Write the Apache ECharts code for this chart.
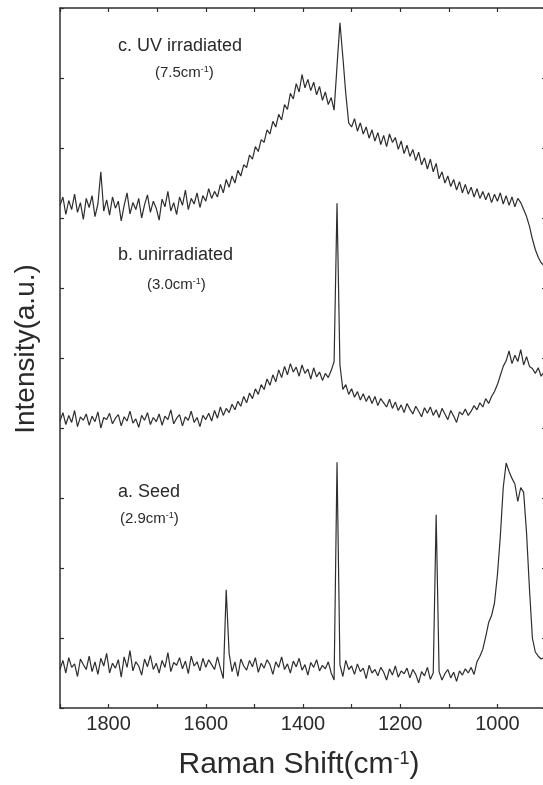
<!DOCTYPE html>
<html><head><meta charset="utf-8">
<script src="https://cdn.jsdelivr.net/npm/echarts@6/dist/echarts.min.js"></script>
<style>html,body{margin:0;padding:0;background:#fff}#c{width:543px;height:785px}</style>
</head><body><div id="c"></div>
<script>
// Raman shift sampling (cm^-1): first point and spacing
const shiftStart = 1900;
const shiftStep = 6;

// a. Seed
const seedA = [
0.55,0.68,0.50,0.72,0.58,0.63,0.45,0.70,0.62,0.55,
0.74,0.52,0.66,0.48,0.71,0.60,0.78,0.50,0.64,0.57,
0.69,0.44,0.73,0.58,0.82,0.53,0.66,0.60,0.47,0.70,
0.59,0.75,0.55,0.64,0.50,0.68,0.58,0.79,0.52,0.65,
0.61,0.72,0.56,0.67,0.49,0.74,0.60,0.66,0.53,0.71,
0.58,0.69,0.62,0.55,0.73,0.57,0.42,1.69,0.78,0.52,
0.66,0.45,0.70,0.60,0.54,0.68,0.59,0.72,0.51,0.64,
0.57,0.69,0.62,0.48,0.66,0.58,0.73,0.55,0.63,0.50,
0.67,0.59,0.71,0.54,0.62,0.47,0.65,0.58,0.69,0.53,
0.61,0.56,0.66,0.50,0.40,3.51,0.62,0.45,0.68,0.55,
0.60,0.48,0.63,0.52,0.57,0.42,0.61,0.50,0.55,0.46,
0.58,0.51,0.40,0.56,0.47,0.60,0.44,0.53,0.49,0.57,
0.43,0.55,0.48,0.36,0.52,0.46,0.58,0.41,0.50,2.76,
0.52,0.40,0.49,0.55,0.43,0.51,0.38,0.53,0.47,0.56,
0.50,0.58,0.48,0.66,0.74,0.84,1.02,1.22,1.32,1.50,
1.90,2.45,3.15,3.50,3.38,3.28,3.20,2.95,3.15,3.08,
2.50,1.70,1.00,0.80,0.74,0.70,0.72
];

// b. unirradiated
const unirradiatedB = [
4.10,4.22,4.05,4.18,4.08,4.25,4.02,4.16,4.11,4.20,
4.04,4.17,4.09,4.23,4.00,4.15,4.12,4.21,4.06,4.14,
4.19,4.03,4.16,4.10,4.24,4.07,4.13,4.01,4.18,4.11,
4.22,4.05,4.15,4.09,4.20,4.04,4.17,4.12,4.26,4.06,
4.14,4.19,4.03,4.16,4.11,4.24,4.08,4.15,4.02,4.18,
4.12,4.21,4.10,4.25,4.14,4.30,4.18,4.28,4.22,4.34,
4.26,4.38,4.31,4.45,4.36,4.50,4.42,4.56,4.48,4.62,
4.55,4.70,4.61,4.76,4.66,4.83,4.72,4.88,4.76,4.92,
4.80,4.87,4.74,4.90,4.78,4.84,4.70,4.86,4.73,4.80,
4.68,4.78,4.72,4.82,4.95,7.21,4.90,4.55,4.62,4.48,
4.56,4.44,4.52,4.40,4.49,4.38,4.46,4.35,4.45,4.32,
4.42,4.36,4.30,4.41,4.28,4.37,4.25,4.33,4.22,4.35,
4.27,4.20,4.31,4.24,4.16,4.29,4.21,4.30,4.18,4.26,
4.15,4.28,4.20,4.12,4.25,4.17,4.08,4.23,4.19,4.27,
4.18,4.24,4.32,4.26,4.36,4.30,4.42,4.35,4.45,4.52,
4.62,4.75,4.88,4.96,5.10,4.92,5.04,4.95,5.12,4.90,
5.02,4.88,4.85,4.78,4.86,4.74,4.80
];

// c. UV irradiated
const uvIrradiatedC = [
7.18,7.30,7.05,7.25,7.12,7.34,7.08,7.22,6.98,7.28,
7.15,7.32,7.02,7.20,7.66,7.10,7.26,7.04,7.30,7.14,
7.24,6.96,7.18,7.36,7.06,7.22,7.12,7.28,7.00,7.19,
7.33,7.08,7.24,7.14,6.97,7.27,7.16,7.38,7.10,7.22,
7.05,7.30,7.18,7.40,7.12,7.28,7.20,7.36,7.15,7.32,
7.24,7.42,7.28,7.38,7.30,7.48,7.36,7.55,7.44,7.60,
7.50,7.68,7.60,7.76,7.72,7.90,7.84,8.02,7.95,8.12,
8.08,8.26,8.20,8.38,8.30,8.48,8.40,8.62,8.55,8.78,
8.70,8.92,8.80,9.05,8.86,8.98,8.82,8.94,8.76,8.88,
8.68,8.80,8.62,8.72,8.54,9.17,9.79,9.30,8.78,8.36,
8.30,8.42,8.24,8.36,8.20,8.30,8.14,8.26,8.10,8.22,
8.05,8.18,8.02,8.20,8.08,8.15,7.98,8.10,7.92,8.04,
7.88,7.98,7.82,7.94,7.76,7.86,7.70,7.84,7.66,7.78,
7.56,7.66,7.50,7.60,7.45,7.55,7.40,7.52,7.36,7.48,
7.34,7.44,7.30,7.42,7.28,7.38,7.26,7.36,7.22,7.34,
7.24,7.36,7.20,7.32,7.18,7.30,7.16,7.28,7.22,7.12,
7.02,6.88,6.70,6.55,6.44,6.36,6.32
];

const labeledTicks = [1800, 1600, 1400, 1200, 1000];

const lineColor = '#2e2e2e';
const axisColor = '#2e2e2e';
const textColor = '#2a2a2a';
const font = '"Liberation Sans", Arial, sans-serif';

const toPairs = vals => vals.map((v, i) => [shiftStart - shiftStep * i, v]);

const chart = echarts.init(document.getElementById('c'), null, {renderer: 'canvas'});

const xCommon = {
  type: 'value', min: 900, max: 1900, interval: 100, inverse: true,
  axisLine: {onZero: false, lineStyle: {color: axisColor, width: 1.5}},
  axisTick: {inside: true, length: 4, lineStyle: {color: axisColor, width: 1.2}},
  splitLine: {show: false}
};
const yCommon = {
  type: 'value', min: 0, max: 10, interval: 1,
  axisLine: {show: true, onZero: false, lineStyle: {color: axisColor, width: 1.5}},
  axisTick: {show: true, inside: true, length: 4, lineStyle: {color: axisColor, width: 1.2}},
  axisLabel: {show: false},
  splitLine: {show: false}
};

function label(text, x, y, size, align) {
  return {
    type: 'text', x: x, y: y,
    style: {
      text: text, fontSize: size, fontFamily: font, fill: textColor,
      align: align || 'left', verticalAlign: 'middle',
      rich: {sup: {fontSize: Math.round(size * 0.6), fontFamily: font, fill: textColor, verticalAlign: 'top'}}
    }
  };
}

chart.setOption({
  animation: false,
  backgroundColor: '#fff',
  grid: {left: 60, top: 8, width: 486, height: 700, outerBoundsMode: 'none', containLabel: false},
  xAxis: [
    Object.assign({}, xCommon, {
      position: 'bottom',
      axisLabel: {
        formatter: v => labeledTicks.includes(v) ? String(v) : '',
        fontSize: 20, color: textColor, fontFamily: font, margin: 6
      }
    }),
    Object.assign({}, xCommon, {position: 'top', axisLabel: {show: false}})
  ],
  yAxis: [
    Object.assign({}, yCommon, {position: 'left'}),
    Object.assign({}, yCommon, {position: 'right'})
  ],
  series: [
    {name: 'a. Seed', data: toPairs(seedA)},
    {name: 'b. unirradiated', data: toPairs(unirradiatedB)},
    {name: 'c. UV irradiated', data: toPairs(uvIrradiatedC)}
  ].map(s => Object.assign({
    type: 'line', showSymbol: false, symbol: 'none',
    xAxisIndex: 0, yAxisIndex: 0,
    lineStyle: {color: lineColor, width: 1.2},
    silent: true
  }, s)),
  graphic: [
    label('c. UV irradiated', 118, 46, 18),
    label('(7.5cm{sup|-1})', 155, 73, 15),
    label('b. unirradiated', 118, 255, 18),
    label('(3.0cm{sup|-1})', 147, 285, 15),
    label('a. Seed', 118, 492, 18),
    label('(2.9cm{sup|-1})', 120, 519, 15),
    label('Raman Shift(cm{sup|-1})', 299, 765, 30, 'center'),
    {
      type: 'text', x: 26, y: 349, rotation: Math.PI / 2,
      style: {text: 'Intensity(a.u.)', fontSize: 28, fontFamily: font, fill: textColor,
              align: 'center', verticalAlign: 'middle'}
    }
  ]
});
</script>
</body></html>
